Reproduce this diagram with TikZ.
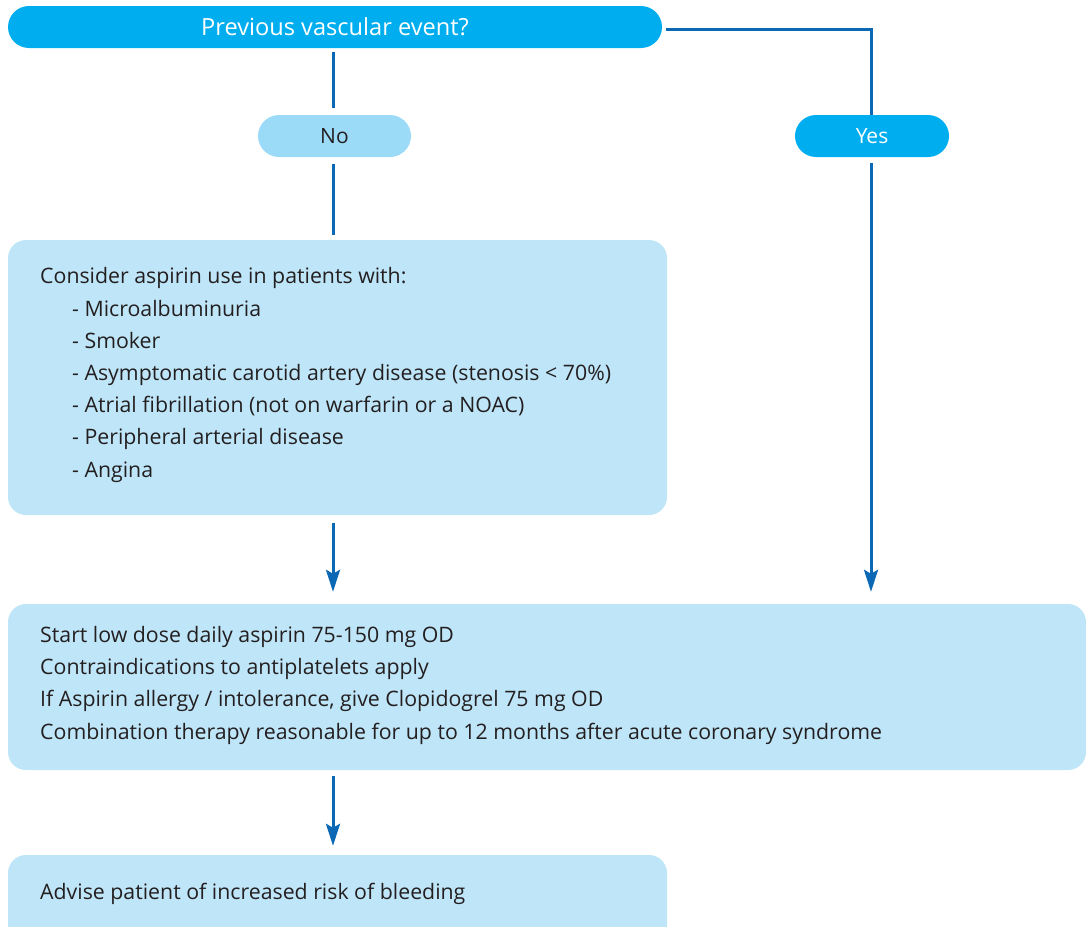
\documentclass[tikz,border=0pt]{standalone}
\usepackage{fontspec}
\setmainfont{Open Sans}
\usetikzlibrary{arrows.meta}
\definecolor{headcyan}{HTML}{00AEEF}
\definecolor{pillblue}{HTML}{9BDBF7}
\definecolor{boxblue}{HTML}{BFE6F8}
\definecolor{linkblue}{HTML}{0A68B4}
\definecolor{ink}{HTML}{231F20}
\tikzset{
  pill/.style={shape=rectangle, rounded corners=21pt, inner sep=0pt, minimum height=42pt},
  panel/.style={shape=rectangle, rounded corners=18pt, fill=boxblue, inner sep=0pt},
  link/.style={draw=linkblue, line width=3pt},
  flow/.style={link, -{Stealth[length=22pt,width=14pt,inset=4pt]}},
  body/.style={anchor=base west, inner sep=0pt, align=left, text=ink,
    font=\fontsize{21.3}{32.2}\selectfont},
}
\begin{document}
\begin{tikzpicture}[x=1pt,y=-1pt]
\useasboundingbox (0,0) rectangle (1086,926);
\clip (0,0) rectangle (1086,926);

% question bar and answer pills
\node[pill, fill=headcyan, minimum width=654pt, text=white,
  font=\fontsize{23.6}{26}\selectfont] (event) at (335,27) {Previous vascular event?};
\node[pill, fill=pillblue, minimum width=153pt, text=ink,
  font=\fontsize{21}{24}\selectfont] (no) at (334.5,136) {No};
\node[pill, fill=headcyan, minimum width=154pt, text=white,
  font=\fontsize{21}{24}\selectfont] (yes) at (872,136) {Yes};

% content panels
\node[panel, minimum width=659pt, minimum height=275pt] (consider) at (337.5,377.5) {};
\node[panel, minimum width=1078pt, minimum height=166pt] (start) at (547,687) {};
\node[panel, minimum width=659pt, minimum height=110pt] (advise) at (337.5,910) {};

% multi-line texts are placed by the baseline of their last line
\node[body] (considertext) at (40,477) {Consider aspirin use in patients with:\\
\hspace*{32pt}- Microalbuminuria\\
\hspace*{32pt}- Smoker\\
\hspace*{32pt}- Asymptomatic carotid artery disease (stenosis < 70\%)\\
\hspace*{32pt}- Atrial fibrillation (not on warfarin or a NOAC)\\
\hspace*{32pt}- Peripheral arterial disease\\
\hspace*{32pt}- Angina};
\node[body] (starttext) at (40,739) {Start low dose daily aspirin 75-150 mg OD\\
Contraindications to antiplatelets apply\\
If Aspirin allergy / intolerance, give Clopidogrel 75 mg OD\\
Combination therapy reasonable for up to 12 months after acute coronary syndrome};
\node[body] (advisetext) at (40,899) {Advise patient of increased risk of bleeding};

% connectors (y grows downwards, so a negative yshift moves down)
\coordinate (corner) at (871,29);
\coordinate (stem) at (333,0);
\draw[link] ([xshift=4pt]event.east |- corner) -- (corner) -- (yes.north -| corner);
\draw[link] ([yshift=-4pt]event.south -| stem) -- ([yshift=7pt]no.north -| stem);
\draw[link] ([yshift=-7pt]no.south -| stem) -- ([yshift=5pt]consider.north -| stem);
\draw[flow] ([yshift=-6pt]yes.south -| corner) -- ([yshift=12pt]start.north -| corner);
\draw[flow] ([yshift=-8pt]consider.south -| stem) -- ([yshift=12pt]start.north -| stem);
\draw[flow] ([yshift=-6pt]start.south -| stem) -- ([yshift=9pt]advise.north -| stem);
\end{tikzpicture}
\end{document}
